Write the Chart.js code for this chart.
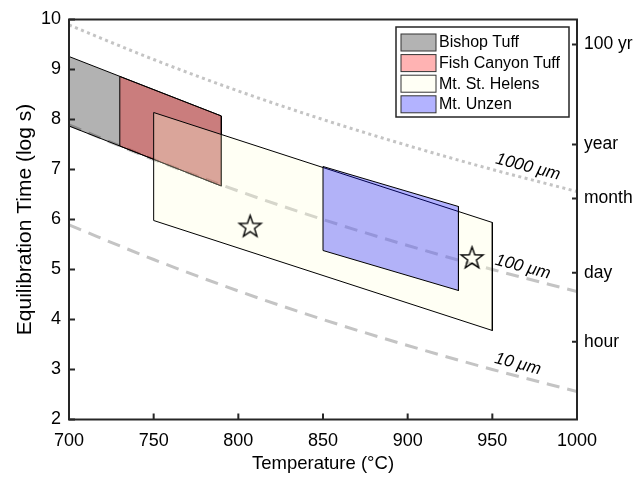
<!DOCTYPE html>
<html>
<head>
<meta charset="utf-8">
<script src="https://cdn.jsdelivr.net/npm/chart.js@4"></script>
<style>
  html, body { margin: 0; padding: 0; background: #fff; }
  #c { display: block; }
</style>
</head>
<body>
<canvas id="c" width="644" height="477"></canvas>
<script>
/* ---------- DATA ---------- */
// diffusion curves, log10 seconds vs temperature (°C)
const temps = [700, 750, 800, 850, 900, 950, 1000];
const t1000um = [9.89, 9.20, 8.57, 8.00, 7.48, 7.00, 6.56];
const t100um = [7.89, 7.20, 6.57, 6.00, 5.48, 5.00, 4.56];
const t10um = [5.89, 5.20, 4.57, 4.00, 3.48, 3.00, 2.56];

// magma fields (closed outlines)
const bishopT = [700, 790, 790, 700, 700];
const bishopLog = [9.26, 8.07, 6.67, 7.87, 9.26];
const fishT = [730, 790, 790, 730, 730];
const fishLog = [8.86, 8.07, 6.67, 7.47, 8.86];
const helensT = [750, 950, 950, 750, 750];
const helensLog = [8.14, 5.94, 3.78, 5.98, 8.14];
const unzenT = [850, 930, 930, 850, 850];
const unzenLog = [7.06, 6.26, 4.58, 5.38, 7.06];

const starT = [807, 938];
const starLog = [5.87, 5.24];

const legendNames = ['Bishop Tuff', 'Fish Canyon Tuff', 'Mt. St. Helens', 'Mt. Unzen'];
const legendColors = ['#b3b3b3', '#ffb3b3', '#fffff5', '#b3b3ff'];

// right axis time marks
const timeLabels = ['hour', 'day', 'month', 'year', '100 yr'];
const timeLog = [3.556, 4.936, 6.42, 7.499, 9.499];

// curve labels
const curveNames = ['1000 μm', '100 μm', '10 μm'];
const curveLabelT = [971, 968, 965];
const curveLabelLog = [7.05, 5.05, 3.11];

const FONT = '"Liberation Sans", Arial, Helvetica, sans-serif';
const pts = (xs, ys) => xs.map((x, i) => ({ x, y: ys[i] }));

/* ---------- STAR MARKER ---------- */
function makeStar(r) {
  const size = Math.ceil(r * 2 + 4);
  const c = document.createElement('canvas');
  c.width = size; c.height = size;
  const g = c.getContext('2d');
  g.beginPath();
  for (let i = 0; i < 10; i++) {
    const rad = i % 2 ? r * 0.4 : r;
    const a = -Math.PI / 2 + i * Math.PI / 5;
    const px = size / 2 + rad * Math.cos(a), py = size / 2 + 1 + rad * Math.sin(a);
    i ? g.lineTo(px, py) : g.moveTo(px, py);
  }
  g.closePath();
  g.strokeStyle = '#000';
  g.lineWidth = 1.4;
  g.stroke();
  return c;
}

function poly(label, xs, ys, fill, order) {
  return {
    label, data: pts(xs, ys), showLine: true, fill: 'shape',
    backgroundColor: fill, borderColor: '#000', borderWidth: 1,
    pointRadius: 0, tension: 0, order
  };
}
function curve(label, ys, dash, order) {
  return {
    label, data: pts(temps, ys), showLine: true, fill: false,
    borderColor: '#c4c4c4', borderWidth: 3, borderDash: dash,
    pointRadius: 0, cubicInterpolationMode: 'monotone', order
  };
}

/* ---------- FRAME, LABELS, LEGEND ---------- */
const decor = {
  id: 'decor',
  afterDatasetsDraw(chart) {
    const { ctx, chartArea: a, scales } = chart;
    const x = scales.x, y = scales.y;
    ctx.save();

    // curve labels
    const curves = [t1000um, t100um, t10um];
    ctx.fillStyle = '#000';
    ctx.font = 'italic 17px ' + FONT;
    ctx.textAlign = 'center';
    ctx.textBaseline = 'middle';
    curves.forEach((c, i) => {
      const n = temps.length;
      const dx = x.getPixelForValue(temps[n - 1]) - x.getPixelForValue(temps[n - 2]);
      const dy = y.getPixelForValue(c[n - 1]) - y.getPixelForValue(c[n - 2]);
      ctx.save();
      ctx.translate(x.getPixelForValue(curveLabelT[i]), y.getPixelForValue(curveLabelLog[i]));
      ctx.rotate(Math.atan2(dy, dx));
      ctx.fillText(curveNames[i], 0, 0);
      ctx.restore();
    });

    // box and inward ticks
    ctx.strokeStyle = '#262626';
    ctx.lineWidth = 2;
    ctx.strokeRect(a.left, a.top, a.right - a.left, a.bottom - a.top);
    ctx.beginPath();
    x.ticks.forEach(t => {
      const px = x.getPixelForValue(t.value);
      ctx.moveTo(px, a.bottom); ctx.lineTo(px, a.bottom - 6);
    });
    y.ticks.forEach(t => {
      const py = y.getPixelForValue(t.value);
      ctx.moveTo(a.left, py); ctx.lineTo(a.left + 6, py);
    });
    timeLog.forEach(v => {
      const py = y.getPixelForValue(v);
      ctx.moveTo(a.right, py); ctx.lineTo(a.right - 5, py);
    });
    ctx.stroke();

    // legend
    const lx = 396, ly = 27, lw = 173, lh = 90;
    ctx.fillStyle = '#fff';
    ctx.fillRect(lx, ly, lw, lh);
    ctx.strokeStyle = '#262626';
    ctx.lineWidth = 1.5;
    ctx.strokeRect(lx, ly, lw, lh);
    ctx.font = '16px ' + FONT;
    ctx.textAlign = 'left';
    ctx.textBaseline = 'middle';
    legendNames.forEach((name, i) => {
      const cy = ly + 15.5 + i * 20.6;
      ctx.fillStyle = legendColors[i];
      ctx.fillRect(lx + 5, cy - 8.5, 35, 17);
      ctx.strokeStyle = '#333';
      ctx.lineWidth = 1;
      ctx.strokeRect(lx + 5, cy - 8.5, 35, 17);
      ctx.fillStyle = '#000';
      ctx.fillText(name, lx + 43, cy + 0.5);
    });
    ctx.restore();
  }
};

/* ---------- CHART ---------- */
new Chart(document.getElementById('c'), {
  type: 'scatter',
  data: {
    datasets: [
      {
        label: 'stars', data: pts(starT, starLog), showLine: false,
        pointStyle: makeStar(11.5), pointRadius: 11, order: 0
      },
      poly('Mt. Unzen', unzenT, unzenLog, 'rgba(0,0,255,0.3)', 1),
      poly('Mt. St. Helens', helensT, helensLog, 'rgba(255,255,220,0.3)', 2),
      poly('Fish Canyon Tuff', fishT, fishLog, 'rgba(255,0,0,0.3)', 3),
      poly('Bishop Tuff', bishopT, bishopLog, 'rgba(0,0,0,0.3)', 4),
      curve('10 um', t10um, [13, 8], 5),
      curve('100 um', t100um, [13, 8], 6),
      curve('1000 um', t1000um, [3, 3.5], 7)
    ]
  },
  options: {
    responsive: false,
    animation: false,
    devicePixelRatio: 1,
    layout: { padding: { top: 19.5, left: 0, right: 0, bottom: 0 } },
    plugins: { legend: { display: false }, tooltip: { enabled: false } },
    scales: {
      x: {
        type: 'linear', position: 'bottom', min: 700, max: 1000,
        grid: { display: false, drawTicks: false }, border: { display: false },
        ticks: {
          stepSize: 50, color: '#000', font: { family: FONT, size: 18 }, padding: 11, maxRotation: 0,
          callback: v => String(v)
        },
        title: { display: true, text: 'Temperature (°C)', color: '#000', font: { family: FONT, size: 18.5 }, padding: { top: 2, bottom: 2 } },
        afterFit: s => { s.height = 57.5; }
      },
      y: {
        position: 'left', min: 2, max: 10,
        grid: { display: false, drawTicks: false }, border: { display: false },
        ticks: { stepSize: 1, color: '#000', font: { family: FONT, size: 18 }, padding: 8 },
        title: { display: true, text: 'Equilibration Time (log s)', color: '#000', font: { family: FONT, size: 21 }, padding: { top: 13, bottom: 0 } },
        afterFit: s => { s.width = 69; }
      },
      y2: {
        position: 'right', min: 2, max: 10,
        grid: { display: false, drawTicks: false }, border: { display: false },
        afterBuildTicks: s => { s.ticks = timeLog.map(v => ({ value: v })); },
        ticks: {
          autoSkip: false, color: '#000', font: { family: FONT, size: 17.5 }, padding: 7,
          callback: (v, i) => timeLabels[i]
        },
        afterFit: s => { s.width = 67; }
      }
    }
  },
  plugins: [decor]
});
</script>
</body>
</html>
